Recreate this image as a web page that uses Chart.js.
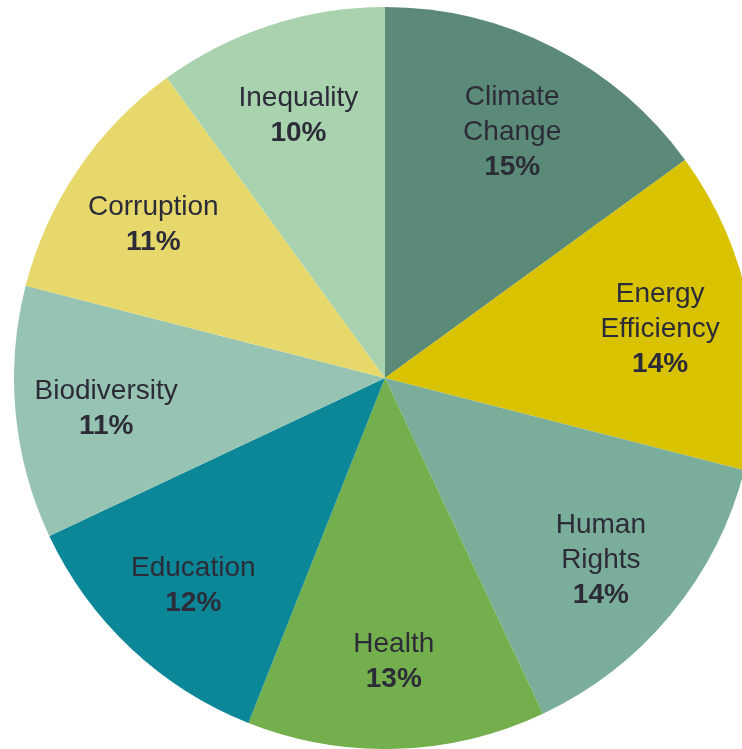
<!DOCTYPE html>
<html>
<head>
<meta charset="utf-8">
<script src="https://cdn.jsdelivr.net/npm/chart.js@4"></script>
<style>
  html, body { margin: 0; padding: 0; background: #fff; overflow: hidden; width: 742px; height: 749px; }
  #wrap { position: absolute; left: 14px; top: 7px; width: 742px; height: 742px; }
</style>
</head>
<body>
<div id="wrap"><canvas id="myChart"></canvas></div>
<script>
const categories = [
    ['Climate', 'Change'],
    ['Energy', 'Efficiency'],
    ['Human', 'Rights'],
    ['Health'],
    ['Education'],
    ['Biodiversity'],
    ['Corruption'],
    ['Inequality']
];
const shares = [15, 14, 14, 13, 12, 11, 11, 10]; // percent
const sliceColors = ['#5b8a78', '#d9c300', '#7aae9a', '#73af4d', '#0b8798', '#97c3b3', '#e6d86b', '#a9d2ae'];

// draws name + bold percent inside each slice
const sliceLabels = {
    id: 'sliceLabels',
    afterDatasetsDraw(chart) {
        const ctx = chart.ctx;
        const meta = chart.getDatasetMeta(0);
        const lineH = 35;
        ctx.save();
        ctx.fillStyle = '#2c2c38';
        ctx.textAlign = 'center';
        ctx.textBaseline = 'middle';
        meta.data.forEach(function(arc, i) {
            const p = arc.getProps(['x', 'y', 'startAngle', 'endAngle', 'outerRadius'], true);
            const mid = (p.startAngle + p.endAngle) / 2;
            const r = p.outerRadius * 0.755;
            const cx = p.x + Math.cos(mid) * r;
            const cy = p.y + Math.sin(mid) * r + 4;
            const lines = categories[i].concat([shares[i] + '%']);
            let y = cy - (lines.length - 1) * lineH / 2;
            lines.forEach(function(txt, j) {
                const last = j === lines.length - 1;
                ctx.font = (last ? 'bold ' : '') + '28px "Liberation Sans", Arial, sans-serif';
                ctx.fillText(txt, cx, y);
                y += lineH;
            });
        });
        ctx.restore();
    }
};

const ctx = document.getElementById('myChart').getContext('2d');
const myChart = new Chart(ctx, {
    type: 'pie',
    data: {
        labels: categories.map(c => c.join(' ')),
        datasets: [{
            data: shares,
            backgroundColor: sliceColors,
            borderWidth: 0
        }]
    },
    options: {
        responsive: true,
        maintainAspectRatio: false,
        animation: false,
        layout: { padding: 0 },
        plugins: {
            legend: { display: false },
            tooltip: { enabled: false }
        }
    },
    plugins: [sliceLabels]
});
</script>
</body>
</html>
